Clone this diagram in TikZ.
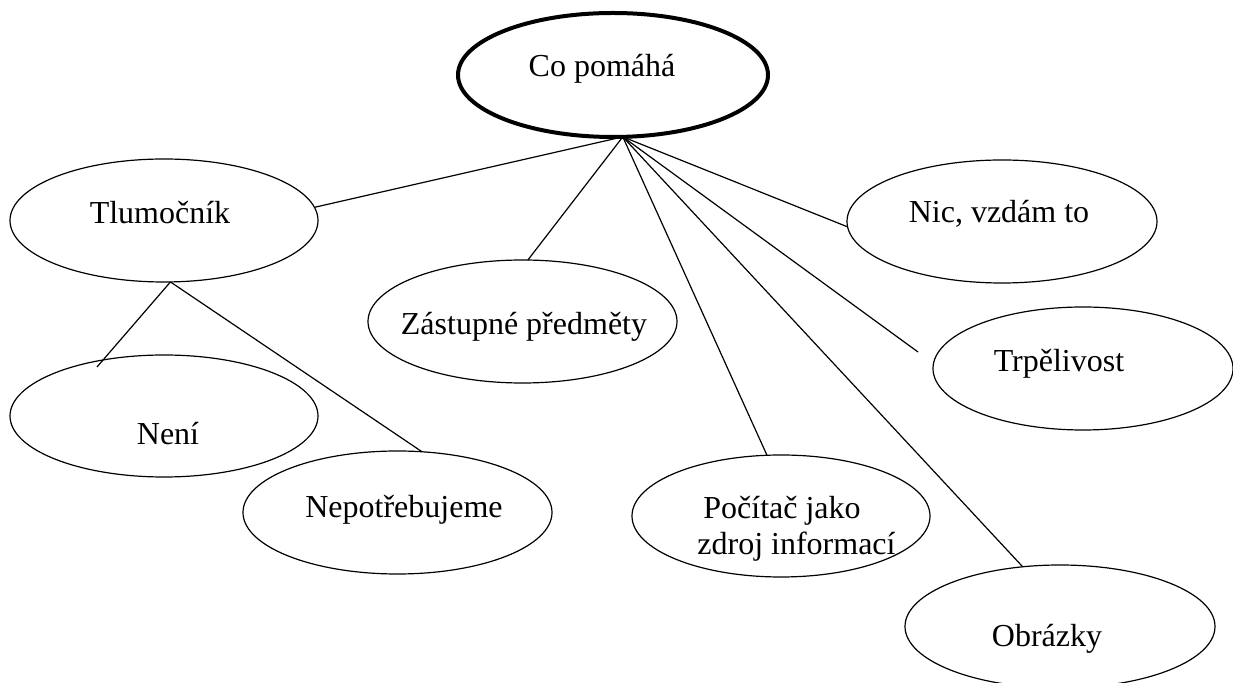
\documentclass[tikz,border=0pt]{standalone}
\usepackage{fontspec}
\setmainfont{Liberation Serif}
\usetikzlibrary{shapes.geometric}
\begin{document}
\begin{tikzpicture}[x=0.5pt,y=-0.5pt,
  bubble/.style={ellipse,draw,line width=0.6pt,inner sep=0pt,outer sep=0pt},
  rootbubble/.style={bubble,line width=2pt},
  word/.style={inner sep=0pt,anchor=base,font=\fontsize{16}{18}\selectfont},
  link/.style={line width=0.6pt}]
\useasboundingbox (0,0) rectangle (1233,683);

% ellipses (one unit is half a point, so a diameter in units halves in pt)
\node[rootbubble,minimum width=155pt,minimum height=62pt] (root) at (613,75) {};
\node[bubble,minimum width=154pt,minimum height=61.5pt] (tlum) at (164,220.5) {};
\node[bubble,minimum width=154.5pt,minimum height=61.5pt] (zast) at (522.5,321.5) {};
\node[bubble,minimum width=155pt,minimum height=61.5pt] (nic) at (1002,221.5) {};
\node[bubble,minimum width=150pt,minimum height=61.5pt] (trp) at (1083,368.5) {};
\node[bubble,minimum width=154pt,minimum height=61pt] (neni) at (164,416) {};
\node[bubble,minimum width=154.5pt,minimum height=61.5pt] (nepot) at (397.5,512.5) {};
\node[bubble,minimum width=149pt,minimum height=61pt] (pc) at (781,516) {};
\node[bubble,minimum width=155pt,minimum height=61.5pt] (obr) at (1060,626.5) {};

% labels
\node[word] (troot) at (602,77) {Co pomáhá};
\node[word] (ttlum) at (160,224) {Tlumočník};
\node[word] (tzast) at (524,335) {Zástupné předměty};
\node[word] (tnic) at (999,223) {Nic, vzdám to};
\node[word] (ttrp) at (1059,372) {Trpělivost};
\node[word] (tneni) at (168,445) {Není};
\node[word] (tnepot) at (404,518) {Nepotřebujeme};
\node[word,anchor=base west,align=left] (tpc) at (697,555)
  {\hspace*{3pt}Počítač jako\\zdroj informací};
\node[word] (tobr) at (1047,647) {Obrázky};

% free line ends that stop short of / run into their ellipse
\coordinate (trpEnd) at (918,352);
\coordinate (neniEnd) at (97,367);

% connectors from the central ellipse
\draw[link] (root.-81) -- (tlum.5.5);
\draw[link] (root.-81) -- (zast.85);
\draw[link] (root.-81) -- (nic.182);
\draw[link] (root.-81) -- (trpEnd);
\draw[link] (root.-81) -- (pc.103);
\draw[link] (root.-81) -- (obr.122);

% connectors from Tlumočník
\draw[link] (tlum.-84) -- (neniEnd);
\draw[link] (tlum.-84) -- (nepot.68);
\end{tikzpicture}
\end{document}
